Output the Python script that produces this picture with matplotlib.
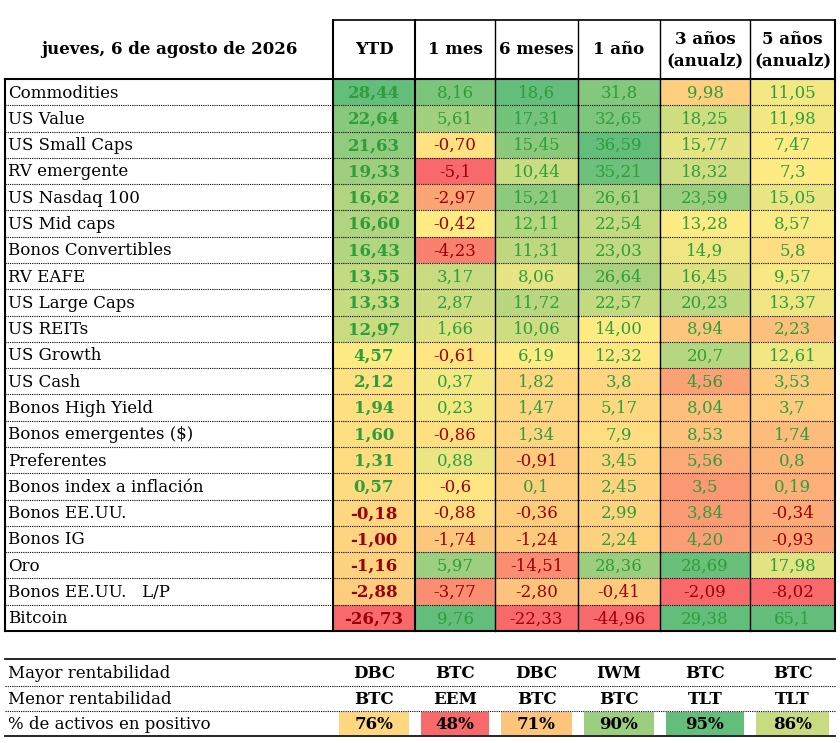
import matplotlib
matplotlib.use("Agg")
import matplotlib.pyplot as plt
import numpy as np
from matplotlib.colors import to_rgb

title = "jueves, 6 de agosto de 2026"
headers = ["YTD", "1 mes", "6 meses", "1 año", "3 años\n(anualz)", "5 años\n(anualz)"]
assets = ["Commodities", "US Value", "US Small Caps", "RV emergente", "US Nasdaq 100",
          "US Mid caps", "Bonos Convertibles", "RV EAFE", "US Large Caps", "US REITs",
          "US Growth", "US Cash", "Bonos High Yield", "Bonos emergentes ($)", "Preferentes",
          "Bonos index a inflación", "Bonos EE.UU.", "Bonos IG", "Oro", "Bonos EE.UU.   L/P", "Bitcoin"]
ytd = ["28,44", "22,64", "21,63", "19,33", "16,62", "16,60", "16,43", "13,55", "13,33", "12,97",
       "4,57", "2,12", "1,94", "1,60", "1,31", "0,57", "-0,18", "-1,00", "-1,16", "-2,88", "-26,73"]
m1 = ["8,16", "5,61", "-0,70", "-5,1", "-2,97", "-0,42", "-4,23", "3,17", "2,87", "1,66",
      "-0,61", "0,37", "0,23", "-0,86", "0,88", "-0,6", "-0,88", "-1,74", "5,97", "-3,77", "9,76"]
m6 = ["18,6", "17,31", "15,45", "10,44", "15,21", "12,11", "11,31", "8,06", "11,72", "10,06",
      "6,19", "1,82", "1,47", "1,34", "-0,91", "0,1", "-0,36", "-1,24", "-14,51", "-2,80", "-22,33"]
y1 = ["31,8", "32,65", "36,59", "35,21", "26,61", "22,54", "23,03", "26,64", "22,57", "14,00",
      "12,32", "3,8", "5,17", "7,9", "3,45", "2,45", "2,99", "2,24", "28,36", "-0,41", "-44,96"]
y3 = ["9,98", "18,25", "15,77", "18,32", "23,59", "13,28", "14,9", "16,45", "20,23", "8,94",
      "20,7", "4,56", "8,04", "8,53", "5,56", "3,5", "3,84", "4,20", "28,69", "-2,09", "29,38"]
y5 = ["11,05", "11,98", "7,47", "7,3", "15,05", "8,57", "5,8", "9,57", "13,37", "2,23",
      "12,61", "3,53", "3,7", "1,74", "0,8", "0,19", "-0,34", "-0,93", "17,98", "-8,02", "65,1"]
columns = [ytd, m1, m6, y1, y3, y5]

summary_labels = ["Mayor rentabilidad", "Menor rentabilidad", "% de activos en positivo"]
best = ["DBC", "BTC", "DBC", "IWM", "BTC", "BTC"]
worst = ["BTC", "EEM", "BTC", "BTC", "TLT", "TLT"]
pct_pos = [76, 48, 71, 90, 95, 86]

RED, YEL, GRN = to_rgb("#F8696B"), to_rgb("#FFEB84"), to_rgb("#63BE7B")

def scale_color(v, lo, mid, hi):
    if v <= mid:
        t = 0 if mid == lo else (v - lo) / (mid - lo)
        a, b = RED, YEL
    else:
        t = (v - mid) / (hi - mid)
        a, b = YEL, GRN
    return tuple(a[i] + (b[i] - a[i]) * t for i in range(3))

plt.rcParams['font.family'] = ['DejaVu Serif']
fig = plt.figure(figsize=(8.4, 7.43), dpi=100)
ax = fig.add_axes([0, 0, 1, 1])
ax.set_xlim(0, 840)
ax.set_ylim(743, 0)
ax.axis("off")

xs = [5, 333, 415, 495, 578, 660, 750, 835]
top, bottom = 79, 631
n = len(assets)
rh = (bottom - top) / n
FS = 12

ax.text(169, 50, title, ha="center", va="center", fontsize=FS, fontweight="bold")
for j, h in enumerate(headers):
    ax.text((xs[j + 1] + xs[j + 2]) / 2, 50, h, ha="center", va="center",
            fontsize=FS, fontweight="bold", linespacing=1.3)

for j, col in enumerate(columns):
    vals = np.array([float(s.replace(",", ".")) for s in col])
    lo, mid, hi = vals.min(), np.percentile(vals, 50), vals.max()
    for i, (s, v) in enumerate(zip(col, vals)):
        y0 = top + i * rh
        ax.add_patch(plt.Rectangle((xs[j + 1], y0), xs[j + 2] - xs[j + 1], rh,
                                   color=scale_color(v, lo, mid, hi), lw=0))
        ax.text((xs[j + 1] + xs[j + 2]) / 2, y0 + rh / 2 + 1, s, ha="center", va="center",
                fontsize=FS, color="#9C0006" if v < 0 else "#2E9E3A",
                fontweight="bold" if j == 0 else "normal")

for i, a in enumerate(assets):
    ax.text(xs[0] + 3, top + i * rh + rh / 2 + 1, a, ha="left", va="center", fontsize=FS)
    if i > 0:
        ax.plot([xs[0], xs[-1]], [top + i * rh] * 2, color="black", lw=0.8, ls=(0, (1, 1)))

ax.plot([xs[0], xs[-1]], [top, top], color="black", lw=1.5)
ax.plot([xs[0], xs[-1]], [bottom, bottom], color="black", lw=1.5)
ax.plot([xs[1], xs[-1]], [20, 20], color="black", lw=1.2)
for k, x in enumerate(xs):
    y_start = top if k == 0 else 20
    ax.plot([x, x], [y_start, bottom], color="black", lw=1.5 if k in (0, 1, 2, 7) else 1.0)

# tabla resumen
sy = [659, 686, 711, 736]
ax.plot([5, 835], [sy[0], sy[0]], color="black", lw=1.2)
ax.plot([5, 835], [sy[-1], sy[-1]], color="black", lw=1.2)
for r in range(1, 3):
    ax.plot([5, 835], [sy[r], sy[r]], color="black", lw=0.8, ls=(0, (1, 1)))
pcolor = [scale_color(p, min(pct_pos), np.percentile(pct_pos, 50), max(pct_pos)) for p in pct_pos]
rows = [best, worst, [f"{p}%" for p in pct_pos]]
for r, lab in enumerate(summary_labels):
    yc = (sy[r] + sy[r + 1]) / 2 + 1
    ax.text(8, yc, lab, ha="left", va="center", fontsize=FS)
    for j, s in enumerate(rows[r]):
        if r == 2:
            ax.add_patch(plt.Rectangle((xs[j + 1] + 6, sy[r] + 1), xs[j + 2] - xs[j + 1] - 12,
                                       sy[r + 1] - sy[r] - 2, color=pcolor[j], lw=0))
        ax.text((xs[j + 1] + xs[j + 2]) / 2, yc, s, ha="center", va="center",
                fontsize=FS, fontweight="bold")

fig.savefig("out.png", dpi=100)
